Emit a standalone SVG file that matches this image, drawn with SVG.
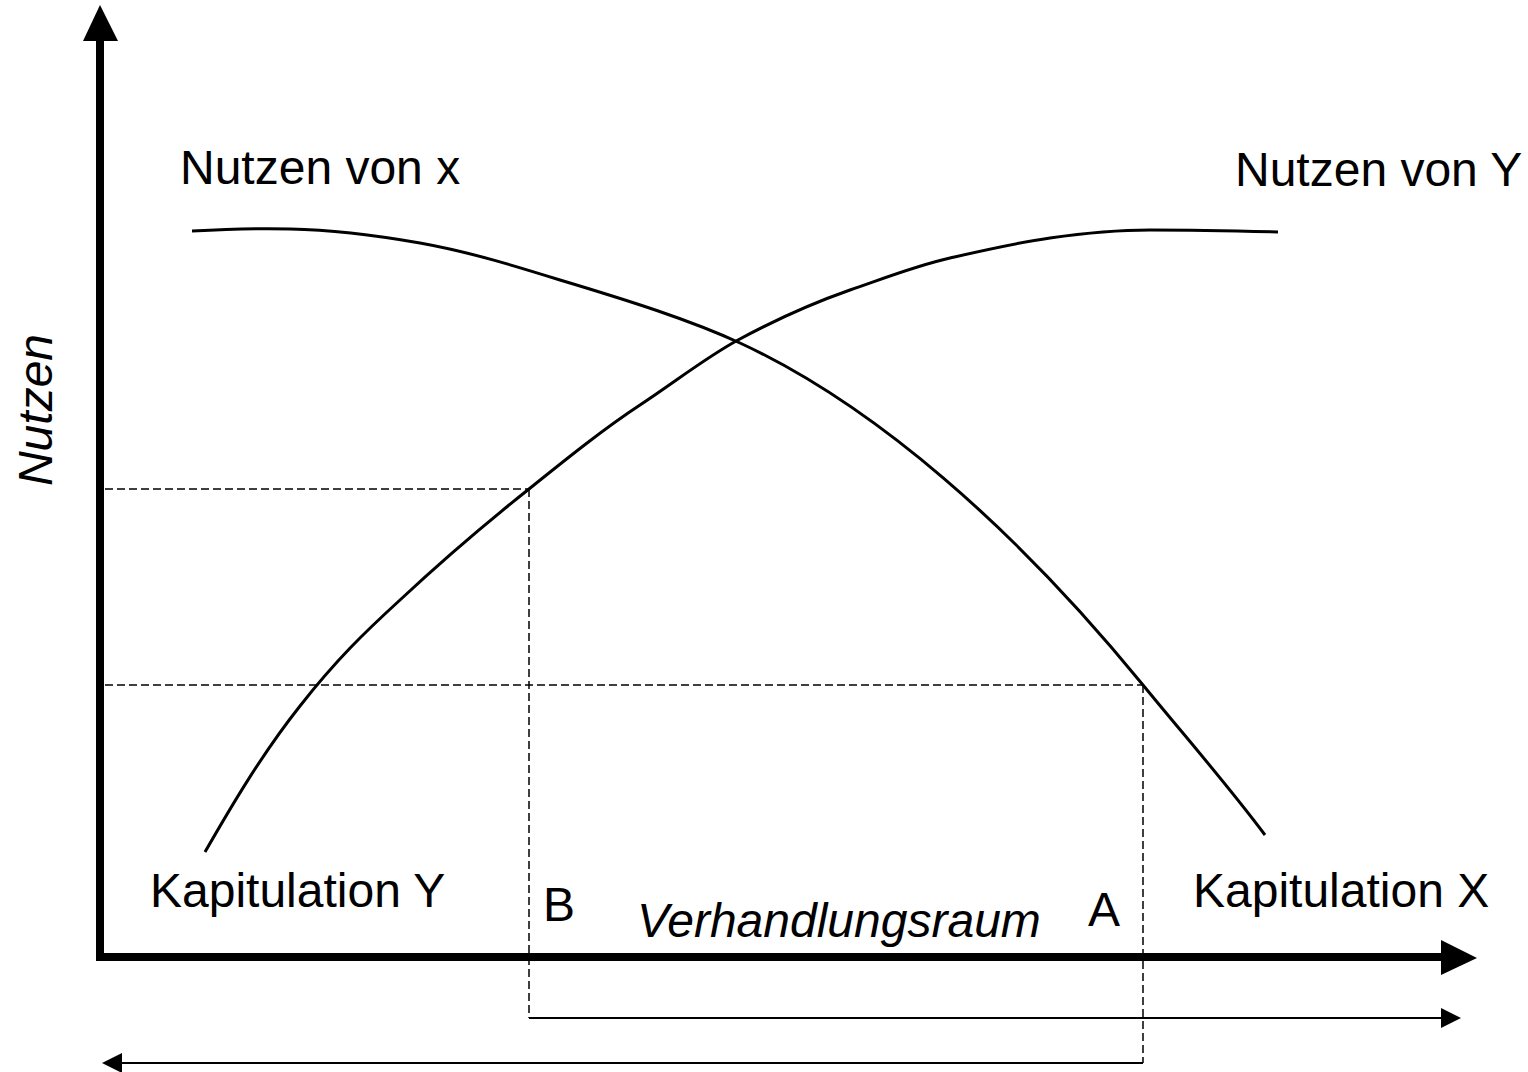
<svg xmlns="http://www.w3.org/2000/svg" width="1528" height="1072" viewBox="0 0 1528 1072">
<style>
text{font-family:"Liberation Sans",Arial,sans-serif;font-size:48px;fill:#000}
.it{font-style:italic}
.axis{stroke:#000;stroke-width:8;fill:none}
.curve{stroke:#000;stroke-width:3;fill:none}
.dash{stroke:#000;stroke-width:1.5;fill:none;stroke-dasharray:8 4}
.thin{stroke:#000;stroke-width:2;fill:none}
.head{fill:#000;stroke:none}
</style>
<rect width="1528" height="1072" fill="#fff"/>
<g id="axes">
<line class="axis" x1="100" y1="961" x2="100" y2="38"/>
<polygon class="head" points="100,5 83,41 118,41"/>
<line class="axis" x1="96" y1="957" x2="1443" y2="957"/>
<polygon class="head" points="1441,940 1477,958 1441,975"/>
</g>
<g id="curve-x">
<path class="curve" d="M192,231 C230,229 260,228 290,229 C340,230 380,236 420,243 C470,252 515,266 560,280 C630,301 690,320 740,343 C874,405 1015,528 1143,685 C1183,734 1227,784 1265,835"/>
</g>
<g id="curve-y">
<path class="curve" d="M205,852 C232,805 262,754 300,706 C336,660 365,632 400,600 C445,558 485,524 529,489 C570,456 605,428 640,405 C675,382 705,358 738,340 C775,320 810,304 850,290 C885,278 915,266 950,258 C985,250 1015,243 1050,238 C1085,233 1115,230 1150,230 C1195,230 1240,231 1278,232"/>
</g>
<g id="connectors">
<line class="dash" x1="105" y1="489" x2="529" y2="489"/>
<line class="dash" x1="529" y1="489" x2="529" y2="1018"/>
<line class="thin" x1="529" y1="1018" x2="1442" y2="1018"/>
<polygon class="head" points="1441,1008 1461,1018 1441,1028"/>
<line class="dash" x1="105" y1="685" x2="1143" y2="685"/>
<line class="dash" x1="1143" y1="685" x2="1143" y2="1063"/>
<line class="thin" x1="1143" y1="1063" x2="121" y2="1063"/>
<polygon class="head" points="102,1063 122,1053 122,1073"/>
</g>
<g id="labels">
<text x="180" y="184">Nutzen von x</text>
<text x="1235" y="186">Nutzen von Y</text>
<text x="150" y="907">Kapitulation Y</text>
<text x="1193" y="907">Kapitulation X</text>
<text x="543" y="921">B</text>
<text x="1088" y="926">A</text>
<text class="it" x="637" y="937">Verhandlungsraum</text>
<text class="it" transform="translate(52,410) rotate(-90)" text-anchor="middle">Nutzen</text>
</g>
</svg>
